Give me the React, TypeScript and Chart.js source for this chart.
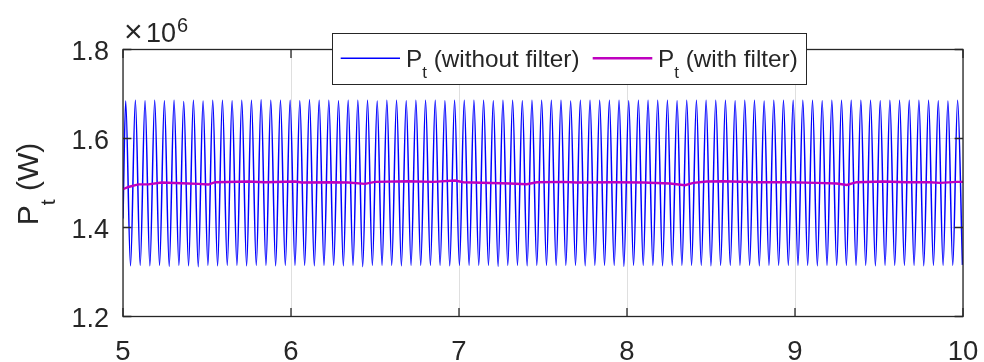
import React, { useEffect, useRef } from "react";
import { Chart, registerables } from "chart.js";

Chart.register(...registerables);

// Axis ticks (y values in units of 10^6 W)
const X_TICKS = [5, 6, 7, 8, 9, 10];
const Y_TICKS = [1.2, 1.4, 1.6, 1.8];
const X_LABELS = ["5", "6", "7", "8", "9", "10"];
const Y_LABELS = ["1.2", "1.4", "1.6", "1.8"];

// Unfiltered Pt: starting sample, then alternating peak / trough extrema
const BLUE_START_T = 5.0;
const BLUE_START_V = 1.42;
const BLUE_FIRST_PEAK_T = 5.016;
const BLUE_HALF_PERIOD = 0.02879;
const bluePeaks = [
  1.684, 1.686, 1.685, 1.686, 1.685, 1.686, 1.683, 1.686, 1.684, 1.686,
  1.686, 1.685, 1.686, 1.686, 1.687, 1.686, 1.686, 1.686, 1.685, 1.687,
  1.686, 1.686, 1.685, 1.686, 1.686, 1.686, 1.684, 1.686, 1.686, 1.685,
  1.686, 1.686, 1.686, 1.685, 1.686, 1.686, 1.686, 1.686, 1.685, 1.686,
  1.686, 1.685, 1.686, 1.686, 1.686, 1.686, 1.684, 1.686, 1.686, 1.686,
  1.686, 1.686, 1.685, 1.686, 1.686, 1.686, 1.686, 1.685, 1.686, 1.686,
  1.686, 1.686, 1.686, 1.685, 1.686, 1.686, 1.684, 1.686, 1.686, 1.686,
  1.686, 1.686, 1.685, 1.686, 1.686, 1.686, 1.686, 1.686, 1.685, 1.686,
  1.686, 1.686, 1.686, 1.686, 1.685, 1.684, 1.686,
];
const blueTroughs = [
  1.314, 1.315, 1.314, 1.315, 1.313, 1.315, 1.314, 1.312, 1.315, 1.314,
  1.315, 1.315, 1.314, 1.315, 1.315, 1.314, 1.315, 1.315, 1.315, 1.314,
  1.315, 1.315, 1.314, 1.315, 1.312, 1.315, 1.315, 1.315, 1.314, 1.315,
  1.315, 1.315, 1.315, 1.314, 1.315, 1.315, 1.315, 1.315, 1.313, 1.315,
  1.315, 1.314, 1.315, 1.315, 1.315, 1.315, 1.315, 1.314, 1.315, 1.315,
  1.315, 1.313, 1.315, 1.315, 1.315, 1.314, 1.315, 1.315, 1.315, 1.315,
  1.314, 1.315, 1.315, 1.315, 1.315, 1.314, 1.315, 1.315, 1.315, 1.315,
  1.315, 1.314, 1.315, 1.315, 1.315, 1.315, 1.315, 1.314, 1.315, 1.315,
  1.315, 1.315, 1.314, 1.315, 1.315, 1.315, 1.316,
];

// Filtered Pt
const filteredT = [
  5.0, 5.032, 5.091, 5.151, 5.23, 5.349, 5.448, 5.508, 5.548, 5.746,
  5.845, 6.024, 6.064, 6.242, 6.341, 6.44, 6.5, 6.698, 6.847, 6.976,
  7.026, 7.304, 7.403, 7.463, 7.621, 7.701, 7.919, 8.097, 8.256, 8.345,
  8.395, 8.474, 8.573, 8.772, 8.97, 9.129, 9.248, 9.308, 9.367, 9.526,
  9.665, 9.804, 9.863, 9.962, 10.0,
];
const filteredV = [
  1.486, 1.491, 1.497, 1.497, 1.501, 1.4996, 1.498, 1.4966, 1.5018, 1.5034,
  1.5018, 1.5034, 1.5011, 1.5018, 1.5011, 1.498, 1.5025, 1.504, 1.5025, 1.5056,
  1.5018, 1.4989, 1.4973, 1.5018, 1.5025, 1.5011, 1.5018, 1.5011, 1.4989, 1.4951,
  1.5002, 1.5034, 1.504, 1.5018, 1.5018, 1.5002, 1.4989, 1.4957, 1.5018, 1.5034,
  1.5018, 1.5018, 1.5002, 1.5025, 1.5025,
];

const LEGEND_LABELS = ["(without filter)", "(with filter)"];
const Y_TITLE_UNIT = " (W)";

const FONT = '"Liberation Sans", Arial, Helvetica, sans-serif';
const AX = "#262626";
const BLUE = "#0000ff";
const MAGENTA = "#bf00bf";

function buildBlue() {
  const pts: { x: number; y: number }[] = [{ x: BLUE_START_T, y: BLUE_START_V }];
  for (let i = 0; i < bluePeaks.length; i++) {
    pts.push({ x: BLUE_FIRST_PEAK_T + 2 * i * BLUE_HALF_PERIOD, y: bluePeaks[i] });
    if (i < blueTroughs.length)
      pts.push({ x: BLUE_FIRST_PEAK_T + (2 * i + 1) * BLUE_HALF_PERIOD, y: blueTroughs[i] });
  }
  return pts;
}

const overlay = {
  id: "matlabOverlay",
  afterDraw(chart: any) {
    const ctx = chart.ctx as CanvasRenderingContext2D;
    const { left, right, top, bottom } = chart.chartArea;
    const xs = chart.scales.x;
    const ys = chart.scales.y;
    ctx.save();
    // box
    ctx.strokeStyle = AX;
    ctx.lineWidth = 1.3;
    ctx.strokeRect(left, top, right - left, bottom - top);
    // inward ticks
    const tl = 8.4;
    ctx.beginPath();
    for (const v of X_TICKS) {
      const px = xs.getPixelForValue(v);
      ctx.moveTo(px, bottom);
      ctx.lineTo(px, bottom - tl);
      ctx.moveTo(px, top);
      ctx.lineTo(px, top + tl);
    }
    for (const v of Y_TICKS) {
      const py = ys.getPixelForValue(v);
      ctx.moveTo(left, py);
      ctx.lineTo(left + tl, py);
      ctx.moveTo(right, py);
      ctx.lineTo(right - tl, py);
    }
    ctx.stroke();

    // exponent label
    ctx.fillStyle = AX;
    ctx.textAlign = "left";
    ctx.textBaseline = "alphabetic";
    ctx.font = `32px ${FONT}`;
    ctx.fillText("\u00d7", left + 1, 42);
    ctx.font = `27px ${FONT}`;
    ctx.fillText("10", left + 23, 41.7);
    const w1 = ctx.measureText("10").width;
    ctx.font = `20px ${FONT}`;
    ctx.fillText("6", left + 23 + w1 + 1, 32);

    // y title
    ctx.save();
    ctx.translate(38.3, (top + bottom) / 2 + 1);
    ctx.rotate(-Math.PI / 2);
    const mainF = `30px ${FONT}`;
    const subF = `21px ${FONT}`;
    ctx.font = mainF;
    const wP = ctx.measureText("P").width;
    const wU = ctx.measureText(Y_TITLE_UNIT).width;
    ctx.font = subF;
    const wT = ctx.measureText("t").width;
    const total = wP + wT + wU;
    let cx = -total / 2;
    ctx.font = mainF;
    ctx.fillText("P", cx, 0);
    cx += wP;
    ctx.font = subF;
    ctx.fillText("t", cx, 16.7);
    cx += wT;
    ctx.font = mainF;
    ctx.fillText(Y_TITLE_UNIT, cx, 0);
    ctx.restore();

    // legend
    const lx = 332.5, ly = 33.5, lw = 474, lh = 51;
    ctx.fillStyle = "#ffffff";
    ctx.fillRect(lx, ly, lw, lh);
    ctx.strokeStyle = AX;
    ctx.lineWidth = 1;
    ctx.strokeRect(lx, ly, lw, lh);
    const entries = [
      { color: BLUE, width: 1.5, x0: 340.7, x1: 400, tx: 406, label: LEGEND_LABELS[0] },
      { color: MAGENTA, width: 2.4, x0: 592.7, x1: 652.3, tx: 658, label: LEGEND_LABELS[1] },
    ];
    for (const e of entries) {
      ctx.strokeStyle = e.color;
      ctx.lineWidth = e.width;
      ctx.beginPath();
      ctx.moveTo(e.x0, 58.3);
      ctx.lineTo(e.x1, 58.3);
      ctx.stroke();
      ctx.fillStyle = AX;
      ctx.font = `24.3px ${FONT}`;
      ctx.fillText("P", e.tx, 66.7);
      const pw = ctx.measureText("P").width;
      ctx.font = `17px ${FONT}`;
      ctx.fillText("t", e.tx + pw, 78);
      const tw = ctx.measureText("t").width;
      ctx.font = `24.3px ${FONT}`;
      ctx.fillText(" " + e.label, e.tx + pw + tw, 66.7);
    }
    ctx.restore();
  },
};

export default function App() {
  const ref = useRef<HTMLCanvasElement | null>(null);
  useEffect(() => {
    if (!ref.current) return;
    const chart = new Chart(ref.current, {
      type: "line",
      data: {
        datasets: [
          {
            label: "Pt (with filter)",
            data: filteredT.map((t, i) => ({ x: t, y: filteredV[i] })),
            borderColor: MAGENTA,
            borderWidth: 2.4,
            pointRadius: 0,
            tension: 0,
          },
          {
            label: "Pt (without filter)",
            data: buildBlue(),
            borderColor: BLUE,
            borderWidth: 1.5,
            pointRadius: 0,
            cubicInterpolationMode: "monotone",
          },
        ],
      } as any,
      options: {
        animation: false,
        responsive: false,
        devicePixelRatio: 1,
        layout: { padding: { top: 49.5, right: 21, left: 0, bottom: 0 } },
        plugins: { legend: { display: false }, tooltip: { enabled: false } },
        scales: {
          x: {
            type: "linear",
            min: 5,
            max: 10,
            afterBuildTicks: (s: any) => {
              s.ticks = X_TICKS.map((v) => ({ value: v }));
            },
            afterFit: (s: any) => {
              s.height = 45.5;
              s.paddingLeft = 0;
              s.paddingRight = 0;
            },
            grid: { color: "#dfdfdf", lineWidth: 1, drawTicks: false },
            border: { display: false },
            ticks: {
              padding: 19,
              color: AX,
              font: { family: FONT, size: 27.5 },
              maxRotation: 0,
              autoSkip: false,
              callback: (v: any) => X_LABELS[X_TICKS.indexOf(Number(v))] ?? "",
            },
          },
          y: {
            type: "linear",
            min: 1.2,
            max: 1.8,
            afterBuildTicks: (s: any) => {
              s.ticks = Y_TICKS.map((v) => ({ value: v }));
            },
            afterFit: (s: any) => {
              s.width = 123;
              s.paddingTop = 0;
              s.paddingBottom = 0;
            },
            grid: { color: "#dfdfdf", lineWidth: 1, drawTicks: false },
            border: { display: false },
            ticks: {
              padding: 14,
              labelOffset: 3,
              color: AX,
              font: { family: FONT, size: 27 },
              autoSkip: false,
              callback: (v: any) => {
                const idx = Y_TICKS.findIndex((t) => Math.abs(t - Number(v)) < 1e-6);
                return idx >= 0 ? Y_LABELS[idx] : "";
              },
            },
          },
        },
      } as any,
      plugins: [overlay],
    });
    return () => chart.destroy();
  }, []);
  return (
    <div style={{ position: "absolute", left: 0, top: 0, width: 984, height: 362, background: "#fff" }}>
      <canvas ref={ref} width={984} height={362} style={{ width: 984, height: 362, display: "block" }} />
    </div>
  );
}
